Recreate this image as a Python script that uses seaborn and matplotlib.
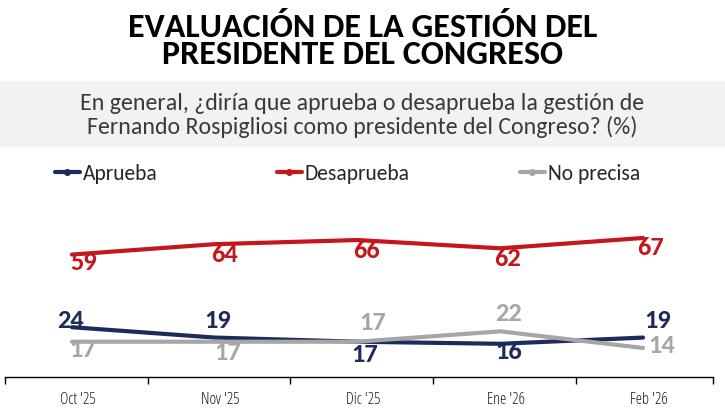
import numpy as np
import pandas as pd
import matplotlib
matplotlib.use("Agg")
import matplotlib.pyplot as plt
from matplotlib.lines import Line2D
import seaborn as sns

# ---- data ----
meses = ["Oct '25", "Nov '25", "Dic '25", "Ene '26", "Feb '26"]
aprueba = [24, 19, 17, 16, 19]
desaprueba = [59, 64, 66, 62, 67]
no_precisa = [17, 17, 17, 22, 14]
series = ["Aprueba", "Desaprueba", "No precisa"]

titulo = ["EVALUACIÓN DE LA GESTIÓN DEL", "PRESIDENTE DEL CONGRESO"]
pregunta = ["En general, ¿diría que aprueba o desaprueba la gestión de",
            "Fernando Rospigliosi como presidente del Congreso? (%)"]

# ---- styles ----
colores = {"Aprueba": "#1c2a5c", "Desaprueba": "#c4161c", "No precisa": "#a6a6a6"}
CAL = ["Carlito", "DejaVu Sans"]
COND = ["Open Sans", "DejaVu Sans"]

# label offsets (pixels) per series/point
offs = {
    "Aprueba": [(-1, 7), (3, 17), (7, -13), (8, -8), (15, 17)],
    "Desaprueba": [(12, -8), (10, -10), (9, -10), (7, -10), (7, -10)],
    "No precisa": [(11, -8), (13, -11), (15, 19), (8, 18), (19, 2)],
}

df = pd.DataFrame({
    "mes": meses * 3,
    "serie": sum([[s] * len(meses) for s in series], []),
    "valor": aprueba + desaprueba + no_precisa,
})

sns.set_theme(style="white")
plt.rcParams["font.family"] = CAL

W, H = 725, 412
fig = plt.figure(figsize=(W / 100, H / 100), dpi=100)
fig.patch.set_facecolor("white")

# gray band behind the question
fig.patches.append(matplotlib.patches.Rectangle(
    (0, 1 - 147 / H), 1, (147 - 81) / H, transform=fig.transFigure,
    facecolor="#f2f2f2", edgecolor="none", zorder=0))

ax = fig.add_axes([5 / W, 35 / H, 708 / W, 176.4 / H])
ax.set_facecolor("none")
sns.lineplot(data=df, x="mes", y="valor", hue="serie", hue_order=series,
             palette=colores, linewidth=3.0, legend=False, sort=False, ax=ax)

ax.set_xlim(-0.469, 4.49)
ax.set_ylim(0, 85)
for s in ["top", "right", "left"]:
    ax.spines[s].set_visible(False)
ax.spines["bottom"].set_color("black")
ax.spines["bottom"].set_linewidth(1.0)
ax.set_yticks([])
ax.set_xlabel("")
ax.set_ylabel("")
ax.set_xticks(np.arange(len(meses)) + 0.04)
ax.set_xticklabels(meses, fontsize=11.5, color="#1a1a1a", family=COND, fontstretch="condensed")
ax.set_xticks(list(np.arange(4) + 0.53) + [-0.469, 4.49], minor=True)
ax.tick_params(axis="x", which="major", length=0, pad=11)
ax.tick_params(axis="x", which="minor", length=5, width=1, color="black", direction="out", bottom=True)

vals = {"Aprueba": aprueba, "Desaprueba": desaprueba, "No precisa": no_precisa}
for s in series:
    for i, v in enumerate(vals[s]):
        dx, dy = offs[s][i]
        ax.annotate(str(v), (i, v), xytext=(dx, dy), textcoords="offset pixels",
                    ha="center", va="center", fontsize=19, fontweight="bold",
                    color=colores[s], family=CAL, zorder=5)

# title
fig.text(0.5, 1 - 37 / H, titulo[0], ha="center", va="baseline", fontsize=24.5,
         fontweight="bold", color="black", family=CAL)
fig.text(0.5, 1 - 64 / H, titulo[1], ha="center", va="baseline", fontsize=24.5,
         fontweight="bold", color="black", family=CAL)
# question
fig.text(0.5, 1 - 110 / H, pregunta[0], ha="center", va="baseline", fontsize=17.2,
         color="#3a3a3a", family=CAL)
fig.text(0.5, 1 - 134 / H, pregunta[1], ha="center", va="baseline", fontsize=17.2,
         color="#3a3a3a", family=CAL)

# legend: one entry each, placed at the reference positions
for s, x0 in zip(series, [55, 277, 520]):
    h = Line2D([0], [0], color=colores[s], lw=3, marker="o", markersize=4)
    leg = fig.legend([h], [s], loc="center left", bbox_to_anchor=(x0 / W, 1 - 174 / H),
                     frameon=False, prop={"family": CAL, "size": 15.5},
                     handlelength=1.16, handletextpad=0.14,
                     borderaxespad=0, borderpad=0, labelcolor="#262626")

fig.savefig("out.png", dpi=100)
